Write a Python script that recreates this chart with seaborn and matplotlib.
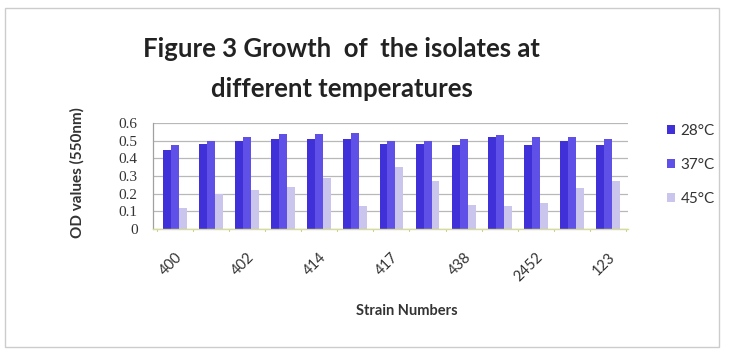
import matplotlib
matplotlib.use("Agg")
import matplotlib.pyplot as plt
from matplotlib.patches import Rectangle, Patch
import numpy as np
import pandas as pd
import seaborn as sns

# Strain groups (every other label is shown on the axis)
strains = ["400", "401", "402", "404", "414", "415", "417", "420", "438", "440", "2452", "2453", "123"]
shown_labels = ["400", "", "402", "", "414", "", "417", "", "438", "", "2452", "", "123"]
temps = ["28°C", "37°C", "45°C"]

od_28 = [0.45, 0.48, 0.50, 0.51, 0.51, 0.51, 0.48, 0.48, 0.475, 0.52, 0.475, 0.50, 0.475]
od_37 = [0.475, 0.50, 0.52, 0.54, 0.54, 0.545, 0.50, 0.50, 0.51, 0.53, 0.52, 0.52, 0.51]
od_45 = [0.12, 0.20, 0.22, 0.24, 0.29, 0.13, 0.35, 0.27, 0.135, 0.13, 0.15, 0.23, 0.27]

colors = ["#4030d8", "#5f50e8", "#c9c5ec"]

df = pd.DataFrame({
    "Strain": np.tile(np.arange(len(strains)), 3),
    "Temp": np.repeat(temps, len(strains)),
    "OD": od_28 + od_37 + od_45,
})

sns.set_theme(style="white")
plt.rcParams["font.family"] = ["Lato", "DejaVu Sans"]

fig = plt.figure(figsize=(7.32, 3.54), dpi=100)
ax = fig.add_axes([0.209, 0.353, 0.649, 0.2995])

sns.barplot(data=df, x="Strain", y="OD", hue="Temp", palette=colors,
            width=0.66, gap=0, saturation=1, ax=ax, legend=False,
            edgecolor="none", order=list(range(len(strains))))

ax.set_ylim(0, 0.6)
ax.set_xlim(-0.6, len(strains) - 0.45)
ax.set_yticks(np.arange(0, 0.61, 0.1))
ax.set_yticklabels(["0", "0.1", "0.2", "0.3", "0.4", "0.5", "0.6"],
                   fontfamily=["Liberation Serif"], fontsize=11, color="#333333")
ax.tick_params(axis="y", pad=11, length=0)
ax.yaxis.grid(True, color="#b8b8b8", linewidth=0.9)
ax.set_axisbelow(True)

ax.set_xticks(np.arange(len(strains)))
ax.set_xticklabels(shown_labels, rotation=45, ha="right", rotation_mode="anchor",
                   fontsize=10.5, color="#333333")
ax.tick_params(axis="x", length=0, pad=15)
for b in np.arange(-0.5, len(strains), 1):
    ax.plot([b, b], [0, -0.012], color="#c9d08a", lw=0.8, clip_on=False)

for s in ["top", "right"]:
    ax.spines[s].set_visible(False)
ax.spines["left"].set_color("#a0a0a0")
ax.spines["left"].set_linewidth(0.9)
ax.spines["bottom"].set_color("#d7dc9c")
ax.spines["bottom"].set_linewidth(1.0)

ax.set_xlabel("")
ax.set_ylabel("")
fig.text(0.556, 0.121, "Strain Numbers", ha="center", va="center",
         fontsize=10.5, fontweight="bold", color="#333333")
fig.text(0.105, 0.513, "OD values (550nm)", ha="center", va="center", rotation=90,
         fontsize=11, fontweight="bold", color="#333333")

fig.text(0.467, 0.840, "Figure 3 Growth  of  the isolates at", ha="center", va="baseline",
         fontsize=18.5, fontweight="bold", color="#222222")
fig.text(0.467, 0.727, "different temperatures", ha="center", va="baseline",
         fontsize=18.5, fontweight="bold", color="#222222")

handles = [Patch(facecolor=c, edgecolor="none") for c in colors]
fig.legend(handles, temps, loc="center left", bbox_to_anchor=(0.911, 0.534),
           frameon=False, fontsize=11, handlelength=0.55, handleheight=0.55,
           handletextpad=0.35, labelspacing=1.3, labelcolor="#333333",
           borderpad=0, borderaxespad=0)

fig.patches.append(Rectangle((0.0068, 0.0198), 0.975, 0.957, transform=fig.transFigure,
                             fill=False, edgecolor="#cccccc", linewidth=1.0))

fig.savefig("out.png", dpi=100)
